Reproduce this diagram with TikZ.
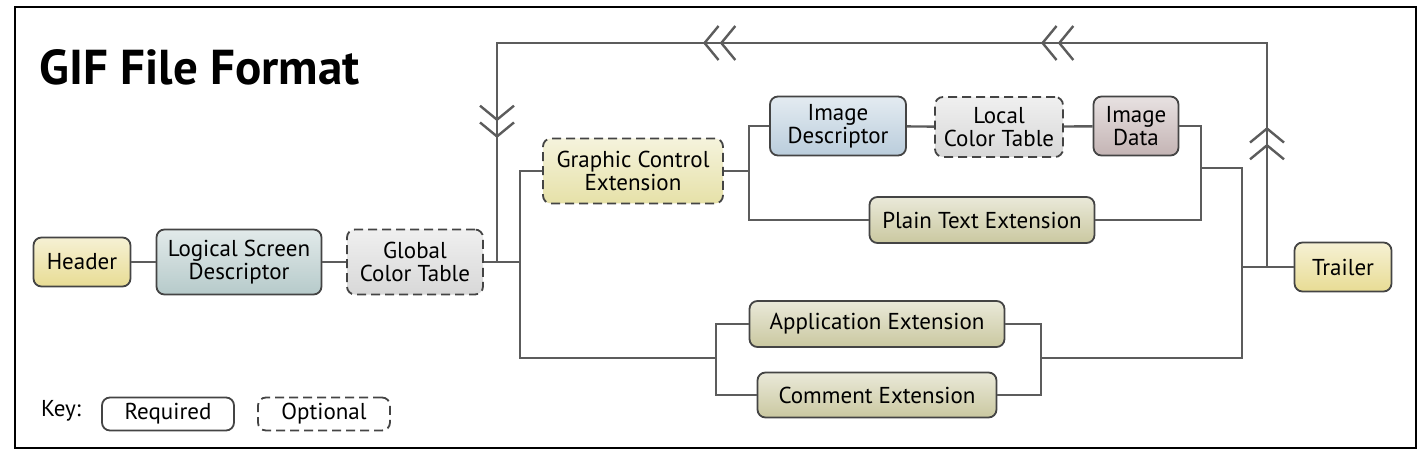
\documentclass[tikz,border=0pt]{standalone}
\usepackage{fontspec}
\setmainfont{PT Sans}
\definecolor{hdryellow}{RGB}{232, 220, 148}
\definecolor{lsdgray}{RGB}{182, 202, 202}
\definecolor{tablegray}{RGB}{216, 216, 216}
\definecolor{gceyellow}{RGB}{230, 225, 168}
\definecolor{descblue}{RGB}{186, 205, 220}
\definecolor{datamauve}{RGB}{196, 180, 180}
\definecolor{extolive}{RGB}{202, 200, 160}
\definecolor{edgegray}{RGB}{68, 68, 68}
\definecolor{linegray}{RGB}{92, 92, 92}
\usetikzlibrary{arrows.meta, decorations.markings}

\tikzset{
  block/.style={draw=edgegray, line width=1.8pt, rounded corners=8pt, align=center,
    inner sep=0pt, font=\fontsize{23}{23}\selectfont},
  optbox/.style={block, dash pattern=on 9pt off 5pt},
  tint/.style={top color=#1!40!white, bottom color=#1},
  wire/.style={draw=linegray, line width=2.4pt},
  keybox/.style={block, fill=white, minimum height=33pt, minimum width=132pt,
    font=\fontsize{23}{23}\selectfont},
  chevrons/.style={decoration={markings,
    mark=at position 136pt with {\arrow{Straight Barb[length=14pt, width=34pt, line width=2.4pt] Straight Barb[length=14pt, width=34pt, line width=2.4pt, sep=-4pt]}},
    mark=at position 446pt with {\arrow{Straight Barb[length=14pt, width=34pt, line width=2.4pt] Straight Barb[length=14pt, width=34pt, line width=2.4pt, sep=-4pt]}},
    mark=at position 784pt with {\arrow{Straight Barb[length=14pt, width=34pt, line width=2.4pt] Straight Barb[length=14pt, width=34pt, line width=2.4pt, sep=-4pt]}},
    mark=at position 1085pt with {\arrow{Straight Barb[length=14pt, width=34pt, line width=2.4pt] Straight Barb[length=14pt, width=34pt, line width=2.4pt, sep=-4pt]}}},
    postaction={decorate}},
}

\begin{document}
\begin{tikzpicture}[x=1pt, y=-1pt]
  \useasboundingbox (0,0) rectangle (1426,454);
  \draw[line width=2.6pt] (15,7) rectangle (1416,448);

  \node[anchor=base west, font=\fontsize{49}{49}\selectfont\bfseries] (title) at (36,85) {GIF File Format};

  % main row
  \node[block, tint=hdryellow, minimum width=97pt, minimum height=49pt] (header) at (82,262) {Header};
  \node[block, tint=lsdgray, minimum width=165pt, minimum height=65pt] (lsd) at (239,262) {Logical Screen\\Descriptor};
  \node[optbox, tint=tablegray, minimum width=136pt, minimum height=65pt] (gct) at (415,262) {Global\\Color Table};
  \node[block, tint=hdryellow, minimum width=97pt, minimum height=49pt] (trailer) at (1343,267) {Trailer};

  % image branch
  \node[optbox, tint=gceyellow, minimum width=180pt, minimum height=65pt] (gce) at (633,171) {Graphic Control\\Extension};
  \node[block, tint=descblue, minimum width=136pt, minimum height=59pt] (imgdesc) at (838,126) {Image\\Descriptor};
  \node[optbox, tint=tablegray, minimum width=128pt, minimum height=60pt] (lct) at (999,127) {Local\\Color Table};
  \node[block, tint=datamauve, minimum width=85pt, minimum height=59pt] (imgdata) at (1136,126) {Image\\Data};
  \node[block, tint=extolive, minimum width=225pt, minimum height=46pt] (pte) at (982,220) {Plain Text Extension};

  % other extensions
  \node[block, tint=extolive, minimum width=255pt, minimum height=46pt] (appext) at (877,324) {Application Extension};
  \node[block, tint=extolive, minimum width=239pt, minimum height=45pt] (comext) at (877,395) {Comment Extension};

  % key
  \node[font=\fontsize{23}{23}\selectfont] (keylabel) at (61,411) {Key:};
  \node[keybox] (required) at (168,414) {Required};
  \node[keybox, dash pattern=on 9pt off 5pt] (optional) at (324,414) {Optional};

  % junctions
  \coordinate (split) at (520,262);
  \coordinate (gcesplit) at (749,171);
  \coordinate (leftbr) at (716,358);
  \coordinate (rightbr) at (1041,358);
  \coordinate (imgjoin) at (1201,168);
  \coordinate (endjoin) at (1242,267);
  \coordinate (loopstart) at (1267,267);
  \coordinate (loopend) at (497,262);

  % connectors
  \draw[wire] (header) -- (lsd);
  \draw[wire] (lsd) -- (gct);
  \draw[wire] (gct) -- (split);
  \draw[wire] (gce.west) -| (split) |- (leftbr);
  \draw[wire] (gce) -- (gcesplit);
  \draw[wire] (imgdesc.west) -| (gcesplit) |- (pte.west);
  \draw[wire] (imgdesc) -- (lct);
  \draw[wire] (lct) -- (imgdata);
  \draw[wire] (imgdata.east) -| (imgjoin) |- (pte.east);
  \draw[wire] (appext.west) -| (leftbr) |- (comext.west);
  \draw[wire] (appext.east) -| (rightbr) |- (comext.east);
  \draw[wire] (imgjoin) -| (endjoin) |- (rightbr);
  \draw[wire] (endjoin) -- (trailer);
  \draw[wire, chevrons] (loopstart) -- (1267,43) -| (loopend);
\end{tikzpicture}
\end{document}
